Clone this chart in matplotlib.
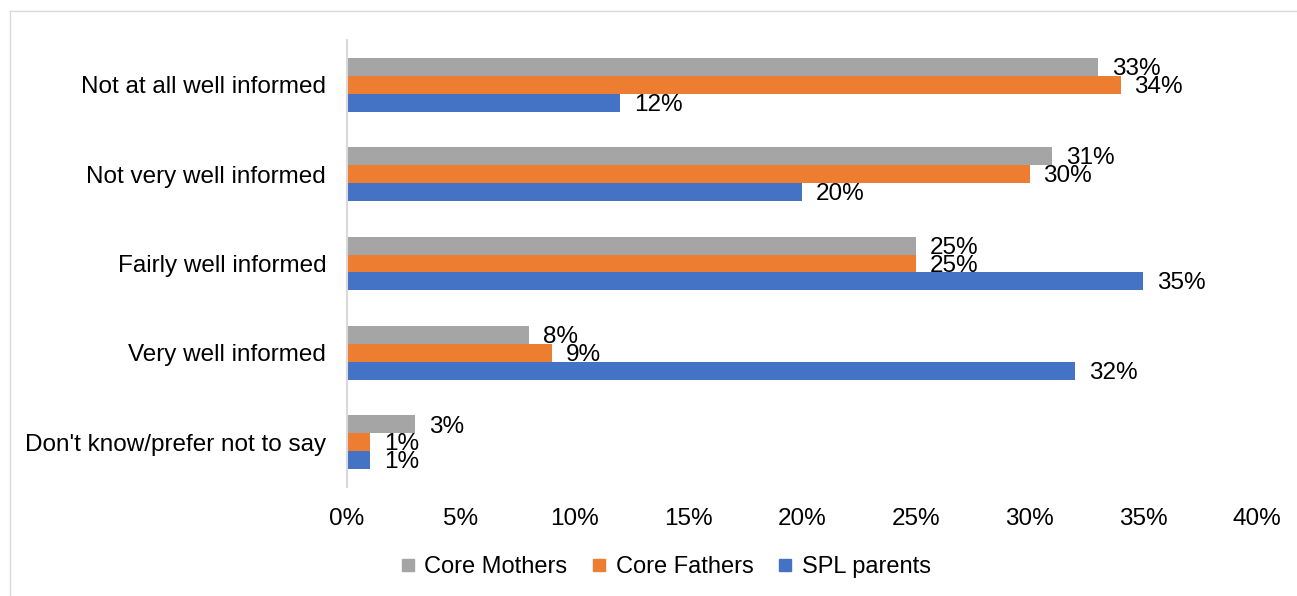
import matplotlib
matplotlib.use("Agg")
import matplotlib.pyplot as plt
import numpy as np
from matplotlib.lines import Line2D

plt.rcParams['font.family'] = ['Liberation Sans', 'DejaVu Sans']

categories = ["Not at all well informed", "Not very well informed", "Fairly well informed",
              "Very well informed", "Don't know/prefer not to say"]
series_names = ["Core Mothers", "Core Fathers", "SPL parents"]
core_mothers = [33, 31, 25, 8, 3]
core_fathers = [34, 30, 25, 9, 1]
spl_parents = [12, 20, 35, 32, 1]
colors = ["#A5A5A5", "#ED7D31", "#4472C4"]
xticks = [0, 5, 10, 15, 20, 25, 30, 35, 40]

W, H = 1297, 596
fig = plt.figure(figsize=(W / 100, H / 100), dpi=100)
ax = fig.add_axes([347 / W, 1 - 487 / H, (1257 - 347) / W, (487 - 40) / H])

FS = 17.5
n = len(categories)
y = np.arange(n)
h = 0.2
vals = [core_mothers, core_fathers, spl_parents]
offsets = [-h, 0, h]
for name, v, c, off in zip(series_names, vals, colors, offsets):
    bars = ax.barh(y + off, v, height=h, color=c, label=name)
    for b, val in zip(bars, v):
        ax.annotate(f"{val}%", (b.get_width(), b.get_y() + b.get_height() / 2),
                    xytext=(10, -1.5), textcoords="offset points", va="center", ha="left",
                    fontsize=FS, color="#000000")

ax.set_ylim(n - 0.5, -0.5)
ax.set_xlim(0, 40)
ax.set_yticks(y)
ax.set_yticklabels(categories, fontsize=FS)
ax.set_xticks(xticks)
ax.set_xticklabels([f"{t}%" for t in xticks], fontsize=FS)
ax.tick_params(axis='both', length=0)
ax.tick_params(axis='y', pad=15)
ax.tick_params(axis='x', pad=15)
for s in ["top", "right", "bottom"]:
    ax.spines[s].set_visible(False)
ax.spines["left"].set_color("#D9D9D9")
ax.spines["left"].set_linewidth(1.5)

handles = [Line2D([], [], marker='s', linestyle='none', markersize=9, color=c) for c in colors]
fig.legend(handles, series_names, loc="center", bbox_to_anchor=(665 / W, 1 - 567 / H),
           ncol=3, frameon=False, fontsize=17, handlelength=0.7, handletextpad=0.35,
           columnspacing=1.0)

# outer chart border
fig.add_artist(Line2D([10 / W, 10 / W], [0, 1 - 11 / H], transform=fig.transFigure, color="#D9D9D9", lw=1))
fig.add_artist(Line2D([10 / W, 1], [1 - 11 / H, 1 - 11 / H], transform=fig.transFigure, color="#D9D9D9", lw=1))

fig.savefig("out.png", dpi=100)
